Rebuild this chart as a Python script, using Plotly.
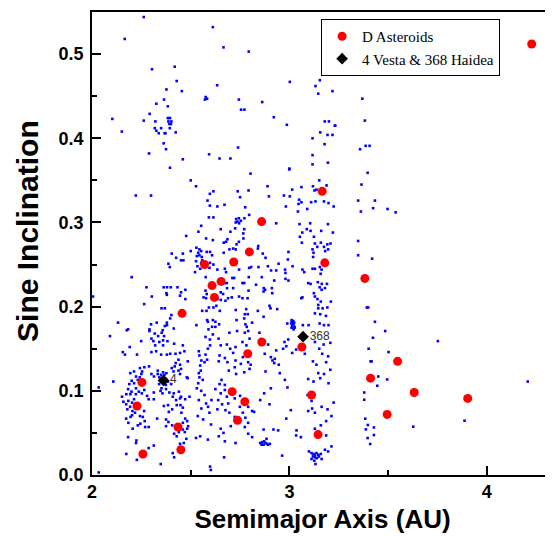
import plotly.graph_objects as go

# ---------------- data ----------------
# D-type asteroids: semimajor axis (AU), sine inclination
d_a = [4.227, 3.166, 2.859, 2.797, 3.179, 2.718, 2.570, 2.654, 2.608, 2.620,
       2.456, 3.382, 2.860, 3.063, 2.789, 3.548, 3.411, 2.253, 3.632, 2.710,
       3.112, 3.903, 2.774, 2.228, 3.495, 2.737, 2.436, 3.145, 2.450, 2.258]
d_s = [0.512, 0.337, 0.301, 0.265, 0.252, 0.253, 0.250, 0.230, 0.225, 0.211,
       0.192, 0.2335, 0.158, 0.152, 0.144, 0.135, 0.115, 0.110, 0.098, 0.099,
       0.095, 0.091, 0.087, 0.082, 0.072, 0.065, 0.057, 0.048, 0.030, 0.025]

# 4 Vesta and 368 Haidea
v_a = [2.362, 3.069]
v_s = [0.1124, 0.1643]
v_lbl = ["4", "368"]

# background asteroids (a, sin i), grouped by region of the plot
bg_high = [
    (2.262, 0.544), (2.612, 0.532), (2.166, 0.518), (2.304, 0.482), (2.419, 0.485),
    (2.429, 0.468), (2.377, 0.458), (2.455, 0.456), (2.365, 0.446), (2.326, 0.441),
    (2.384, 0.438), (2.576, 0.449), (2.583, 0.447), (2.572, 0.446), (2.292, 0.429),
    (2.103, 0.423), (2.262, 0.421), (2.321, 0.420), (2.384, 0.424), (2.395, 0.424),
    (2.387, 0.420), (2.402, 0.420), (2.392, 0.417), (2.400, 0.417), (2.318, 0.412),
    (2.350, 0.412), (2.394, 0.412), (2.326, 0.409), (2.338, 0.406), (2.368, 0.406),
    (2.372, 0.406), (2.424, 0.407), (2.151, 0.408), (2.363, 0.394), (2.375, 0.387),
    (2.289, 0.382), (2.460, 0.375), (2.593, 0.381), (2.395, 0.365),
    (2.666, 0.508), (2.794, 0.503), (2.634, 0.463), (3.002, 0.467), (3.154, 0.469),
    (3.132, 0.462), (3.218, 0.456), (3.146, 0.453), (2.744, 0.446), (2.862, 0.443),
    (2.755, 0.434), (2.772, 0.434), (2.921, 0.425), (2.987, 0.416), (3.179, 0.420),
    (3.200, 0.420), (3.232, 0.415), (3.156, 0.407), (3.193, 0.404), (3.218, 0.404),
    (3.117, 0.400), (3.178, 0.393), (2.740, 0.389), (3.117, 0.380), (2.646, 0.376),
    (2.701, 0.376), (3.117, 0.369), (3.195, 0.371), (3.000, 0.364),
]

bg_outer = [
    (3.369, 0.447), (3.230, 0.415), (3.382, 0.421), (3.358, 0.387), (3.386, 0.391),
    (3.406, 0.391), (3.396, 0.359), (3.365, 0.345), (3.348, 0.326), (3.433, 0.326),
    (3.362, 0.313), (3.424, 0.317), (3.497, 0.316), (3.538, 0.312), (3.348, 0.278),
    (3.348, 0.261), (3.419, 0.257), (3.392, 0.199), (3.399, 0.199), (3.433, 0.182),
    (3.485, 0.171), (3.752, 0.159), (3.423, 0.163), (3.401, 0.150), (3.502, 0.146),
    (3.416, 0.135), (3.411, 0.135), (3.450, 0.117), (3.495, 0.1135), (3.445, 0.106),
    (4.207, 0.111), (3.379, 0.098), (3.379, 0.0894), (3.384, 0.0669), (3.397, 0.0594),
    (3.387, 0.0542), (3.428, 0.0565), (3.396, 0.0439), (3.428, 0.0475), (3.409, 0.0368),
    (3.627, 0.0574), (3.887, 0.0645),
]

bg_inner_mid = [
    (2.500, 0.350), (2.527, 0.343), (2.222, 0.332), (2.299, 0.332), (2.597, 0.334),
    (2.615, 0.337), (2.585, 0.326), (2.597, 0.320), (2.592, 0.306), (2.615, 0.306),
    (2.553, 0.296), (2.539, 0.289), (2.477, 0.284), (2.578, 0.281), (2.612, 0.279),
    (2.529, 0.270), (2.544, 0.268), (2.500, 0.266), (2.553, 0.266), (2.538, 0.264),
    (2.531, 0.260), (2.544, 0.261), (2.556, 0.259), (2.581, 0.265), (2.598, 0.265),
    (2.608, 0.261), (2.404, 0.263), (2.460, 0.263), (2.426, 0.258), (2.451, 0.255),
    (2.463, 0.255), (2.527, 0.254), (2.558, 0.255), (2.553, 0.252), (2.598, 0.252),
    (2.615, 0.250), (2.387, 0.251), (2.394, 0.247), (2.534, 0.248), (2.548, 0.245),
    (2.595, 0.246), (2.522, 0.241), (2.201, 0.235), (2.576, 0.235), (2.276, 0.223),
    (2.363, 0.223), (2.380, 0.223), (2.399, 0.223), (2.433, 0.223), (2.473, 0.220),
    (2.377, 0.216), (2.379, 0.214), (2.451, 0.217), (2.446, 0.213), (2.575, 0.219),
    (2.581, 0.215), (2.303, 0.212), (2.473, 0.209), (2.565, 0.211), (2.578, 0.210),
    (2.264, 0.203), (2.352, 0.198), (2.369, 0.198), (2.592, 0.199), (2.615, 0.199),
    (2.558, 0.195), (2.580, 0.195), (2.402, 0.190), (2.396, 0.186), (2.583, 0.184),
    (2.587, 0.182), (2.612, 0.184), (2.132, 0.181), (2.328, 0.181), (2.299, 0.179),
    (2.379, 0.181), (2.380, 0.178), (2.369, 0.177), (2.529, 0.178), (2.608, 0.176),
    (2.625, 0.176), (2.183, 0.173), (2.291, 0.173), (2.414, 0.174), (2.590, 0.173),
    (2.005, 0.212),
]

bg_middle_mid = [
    (2.803, 0.358), (2.999, 0.363), (2.889, 0.343), (2.738, 0.337), (2.793, 0.338),
    (2.750, 0.330), (2.896, 0.331), (2.972, 0.332), (3.002, 0.331), (3.014, 0.339),
    (3.061, 0.342), (3.119, 0.343), (3.151, 0.350), (3.049, 0.327), (3.061, 0.324),
    (3.046, 0.322), (3.110, 0.324), (3.132, 0.325), (3.127, 0.338), (3.137, 0.339),
    (3.188, 0.344), (3.198, 0.323), (3.175, 0.325), (2.635, 0.319), (2.671, 0.321),
    (2.776, 0.318), (2.982, 0.319), (3.043, 0.313), (3.090, 0.316), (3.224, 0.319),
    (2.796, 0.309), (2.744, 0.305), (2.730, 0.304), (2.754, 0.302), (2.772, 0.305),
    (2.737, 0.301), (2.728, 0.300), (2.745, 0.299), (2.933, 0.299), (3.051, 0.298),
    (3.105, 0.299), (3.195, 0.298), (2.652, 0.292), (2.701, 0.289), (2.725, 0.293),
    (2.771, 0.292), (2.766, 0.287), (3.088, 0.292), (3.107, 0.290), (3.065, 0.288),
    (3.161, 0.290), (3.220, 0.288), (3.053, 0.283), (2.686, 0.280), (2.679, 0.277),
    (2.667, 0.276), (2.744, 0.277), (2.732, 0.274), (2.767, 0.281), (3.063, 0.276),
    (3.124, 0.283), (3.129, 0.275), (3.141, 0.271), (3.159, 0.276), (3.175, 0.271),
    (3.192, 0.274), (3.208, 0.275), (3.196, 0.268), (3.181, 0.266), (2.715, 0.269),
    (2.728, 0.268), (2.696, 0.268), (2.667, 0.264), (2.842, 0.272), (2.840, 0.269),
    (3.117, 0.268), (3.122, 0.264), (3.120, 0.259), (2.865, 0.263), (2.879, 0.258),
    (2.995, 0.265), (2.992, 0.256), (2.945, 0.251), (3.016, 0.248), (2.891, 0.248),
    (2.796, 0.246), (2.806, 0.247), (2.843, 0.247), (2.907, 0.243), (2.933, 0.243),
    (2.978, 0.244), (2.980, 0.240), (2.745, 0.244), (2.673, 0.245), (2.635, 0.244),
    (2.679, 0.241), (3.117, 0.245), (3.129, 0.245), (3.154, 0.247), (3.163, 0.244),
    (3.066, 0.244), (3.075, 0.241), (3.158, 0.239), (2.794, 0.235), (2.860, 0.235),
    (2.711, 0.234), (2.720, 0.234), (2.671, 0.228), (2.683, 0.228), (2.923, 0.231),
    (2.980, 0.233), (2.995, 0.231), (3.095, 0.228), (3.107, 0.227), (3.144, 0.229),
    (3.164, 0.227), (3.180, 0.222), (3.153, 0.223), (3.163, 0.220), (3.190, 0.227),
    (2.762, 0.228), (2.771, 0.228), (2.831, 0.226), (2.715, 0.222), (2.684, 0.222),
    (2.652, 0.217), (2.664, 0.215), (2.870, 0.222), (2.869, 0.218), (2.877, 0.220),
    (2.911, 0.222), (2.913, 0.216), (2.793, 0.219), (2.745, 0.212), (2.762, 0.210),
    (2.788, 0.210), (2.708, 0.211), (2.689, 0.210), (2.676, 0.207), (2.652, 0.208),
    (3.066, 0.211), (3.060, 0.210), (2.635, 0.209), (3.124, 0.216), (3.129, 0.212),
    (3.142, 0.209), (3.146, 0.202), (3.159, 0.206), (3.146, 0.198), (3.168, 0.198),
    (3.192, 0.199), (3.210, 0.206), (3.129, 0.192), (3.156, 0.191), (3.185, 0.189),
    (2.899, 0.201), (2.904, 0.198), (2.728, 0.196), (2.781, 0.197), (2.774, 0.191),
    (2.789, 0.191), (2.771, 0.186), (2.630, 0.201), (2.647, 0.195), (2.840, 0.195),
    (2.938, 0.197), (2.869, 0.188), (2.732, 0.184), (2.777, 0.179), (2.784, 0.176),
    (2.811, 0.181), (2.989, 0.180), (3.026, 0.176), (3.068, 0.178), (3.097, 0.178),
    (3.153, 0.180), (3.175, 0.178), (3.198, 0.178), (2.625, 0.182), (2.644, 0.179),
    (3.011, 0.184), (3.019, 0.183), (3.012, 0.182), (3.024, 0.181), (3.009, 0.180),
    (3.021, 0.179), (3.014, 0.177), (3.026, 0.175), (3.011, 0.175), (3.021, 0.173),
    (3.016, 0.180),
]

bg_inner_low = [
    (2.091, 0.165), (2.176, 0.172), (2.291, 0.171), (2.318, 0.168), (2.335, 0.165),
    (2.358, 0.172), (2.353, 0.169), (2.365, 0.165), (2.382, 0.159), (2.416, 0.156),
    (2.460, 0.154), (2.301, 0.162), (2.311, 0.159), (2.320, 0.154), (2.341, 0.158),
    (2.360, 0.160), (2.360, 0.154), (2.249, 0.159), (2.575, 0.164), (2.597, 0.161),
    (2.612, 0.167), (2.598, 0.154), (2.587, 0.150), (2.575, 0.143), (2.583, 0.137),
    (2.570, 0.134), (2.156, 0.146), (2.167, 0.143), (2.228, 0.143), (2.191, 0.152),
    (2.301, 0.146), (2.325, 0.147), (2.350, 0.143), (2.379, 0.143), (2.396, 0.144),
    (2.423, 0.144), (2.446, 0.145), (2.468, 0.147), (2.438, 0.137), (2.424, 0.133),
    (2.446, 0.131), (2.419, 0.129), (2.438, 0.124), (2.446, 0.120), (2.404, 0.127),
    (2.413, 0.123), (2.451, 0.126), (2.485, 0.135), (2.480, 0.116), (2.541, 0.147),
    (2.544, 0.142), (2.554, 0.136), (2.548, 0.130), (2.551, 0.124), (2.541, 0.121),
    (2.544, 0.116), (2.561, 0.113), (2.538, 0.109), (2.265, 0.128), (2.243, 0.127),
    (2.213, 0.123), (2.194, 0.121), (2.223, 0.117), (2.232, 0.113), (2.201, 0.112),
    (2.213, 0.109), (2.189, 0.108), (2.254, 0.123), (2.250, 0.120), (2.242, 0.116),
    (2.289, 0.129), (2.301, 0.120), (2.314, 0.117), (2.333, 0.124), (2.333, 0.120),
    (2.341, 0.116), (2.350, 0.119), (2.360, 0.122), (2.367, 0.119), (2.377, 0.121),
    (2.348, 0.113), (2.375, 0.114), (2.385, 0.111), (2.340, 0.108), (2.401, 0.108),
    (2.374, 0.107), (2.375, 0.102), (2.352, 0.103), (2.347, 0.100), (2.485, 0.115),
    (2.108, 0.111), (2.034, 0.104), (2.183, 0.102), (2.200, 0.099), (2.174, 0.096),
    (2.152, 0.093), (2.184, 0.088), (2.159, 0.087), (2.203, 0.086), (2.213, 0.090),
    (2.194, 0.096), (2.222, 0.096), (2.237, 0.099), (2.223, 0.103), (2.265, 0.101),
    (2.279, 0.094), (2.252, 0.097), (2.313, 0.098), (2.287, 0.090), (2.313, 0.090),
    (2.357, 0.097), (2.392, 0.098), (2.414, 0.097), (2.440, 0.099), (2.451, 0.093),
    (2.472, 0.090), (2.446, 0.091), (2.426, 0.089), (2.409, 0.093), (2.494, 0.093),
    (2.364, 0.082), (2.385, 0.083), (2.406, 0.078), (2.429, 0.083), (2.448, 0.083),
    (2.389, 0.075), (2.453, 0.074), (2.460, 0.080), (2.173, 0.084), (2.179, 0.078),
    (2.193, 0.081), (2.205, 0.076), (2.218, 0.074), (2.195, 0.069), (2.173, 0.067),
    (2.184, 0.062), (2.203, 0.071), (2.243, 0.070), (2.257, 0.069), (2.264, 0.076),
    (2.267, 0.064), (2.245, 0.061), (2.269, 0.057), (2.287, 0.057), (2.232, 0.059),
    (2.206, 0.055), (2.330, 0.067), (2.375, 0.066), (2.387, 0.063), (2.375, 0.058),
    (2.406, 0.059), (2.434, 0.060), (2.460, 0.062), (2.472, 0.067), (2.482, 0.064),
    (2.487, 0.058), (2.470, 0.051), (2.482, 0.055), (2.460, 0.054), (2.440, 0.051),
    (2.416, 0.049), (2.429, 0.046), (2.531, 0.103), (2.553, 0.100), (2.570, 0.095),
    (2.541, 0.089), (2.578, 0.085), (2.605, 0.089), (2.588, 0.081), (2.554, 0.079),
    (2.595, 0.074), (2.536, 0.070), (2.563, 0.066), (2.603, 0.060), (2.548, 0.046),
    (2.587, 0.042), (2.598, 0.010), (2.602, 0.006), (2.183, 0.045), (2.225, 0.041),
    (2.223, 0.038), (2.227, 0.018), (2.174, 0.025), (2.287, 0.032), (2.313, 0.035),
    (2.409, 0.026), (2.416, 0.021), (2.348, 0.013), (2.478, 0.043), (2.465, 0.038),
    (2.446, 0.037), (2.527, 0.044), (2.034, 0.003),
]

bg_middle_low = [
    (2.696, 0.169), (2.735, 0.171), (2.774, 0.169), (2.791, 0.171), (2.641, 0.162),
    (2.683, 0.155), (2.700, 0.150), (2.715, 0.145), (2.727, 0.152), (2.762, 0.158),
    (2.782, 0.154), (2.798, 0.162), (2.652, 0.154), (2.848, 0.169), (2.892, 0.155),
    (2.933, 0.148), (2.994, 0.161), (2.975, 0.158), (2.984, 0.153), (2.646, 0.142),
    (2.673, 0.139), (2.642, 0.135), (2.686, 0.134), (2.727, 0.136), (2.764, 0.140),
    (2.754, 0.132), (2.791, 0.134), (2.804, 0.131), (2.723, 0.128), (2.693, 0.124),
    (2.730, 0.120), (2.771, 0.122), (2.798, 0.126), (2.875, 0.144), (2.906, 0.140),
    (2.926, 0.138), (2.923, 0.133), (2.946, 0.131), (2.879, 0.123), (2.951, 0.121),
    (2.914, 0.136), (2.968, 0.150), (3.014, 0.145), (3.034, 0.149), (3.055, 0.153),
    (3.078, 0.144), (3.129, 0.158), (3.151, 0.150), (3.173, 0.155), (3.207, 0.157),
    (3.166, 0.144), (3.196, 0.141), (3.119, 0.135), (3.137, 0.131), (3.186, 0.134),
    (3.207, 0.125), (3.146, 0.121), (3.175, 0.120), (3.095, 0.114), (3.122, 0.111),
    (3.156, 0.115), (3.198, 0.109), (2.656, 0.113), (2.646, 0.108), (2.673, 0.107),
    (2.625, 0.102), (2.652, 0.097), (2.673, 0.101), (2.683, 0.093), (2.639, 0.089),
    (2.659, 0.084), (2.690, 0.085), (2.723, 0.091), (2.750, 0.094), (2.749, 0.081),
    (2.791, 0.081), (2.811, 0.076), (2.764, 0.074), (2.777, 0.068), (2.723, 0.069),
    (2.696, 0.074), (2.676, 0.077), (2.635, 0.078), (2.791, 0.062), (2.774, 0.057),
    (2.703, 0.058), (2.652, 0.055), (2.642, 0.046), (2.673, 0.040), (2.666, 0.050),
    (2.727, 0.038), (2.669, 0.021), (2.821, 0.075), (2.852, 0.089), (2.872, 0.097),
    (2.906, 0.103), (2.899, 0.084), (2.919, 0.054), (2.869, 0.054), (2.791, 0.049),
    (2.811, 0.045), (2.852, 0.038), (2.862, 0.039), (2.872, 0.040), (2.879, 0.038),
    (2.886, 0.037), (2.892, 0.036), (2.869, 0.036), (2.859, 0.036), (2.884, 0.043),
    (2.901, 0.037), (2.977, 0.113), (2.990, 0.104), (2.984, 0.067), (3.007, 0.077),
    (2.963, 0.023), (3.034, 0.047), (3.058, 0.045), (3.036, 0.053), (2.943, 0.053),
    (3.092, 0.095), (3.112, 0.088), (3.115, 0.079), (3.095, 0.076), (3.129, 0.074),
    (3.163, 0.081), (3.193, 0.078), (3.224, 0.086), (3.213, 0.070), (3.186, 0.064),
    (3.159, 0.059), (3.129, 0.055), (3.186, 0.047), (3.213, 0.034), (3.196, 0.028),
    (3.180, 0.030), (3.099, 0.028), (3.112, 0.026), (3.122, 0.025), (3.129, 0.024),
    (3.137, 0.026), (3.146, 0.024), (3.129, 0.021), (3.119, 0.022), (3.139, 0.020),
    (3.149, 0.022), (3.159, 0.025), (3.126, 0.017), (3.132, 0.013), (3.112, 0.019),
    (3.163, 0.019),
]

x_range = [2.0, 4.335]
y_range = [0.0, 0.55]
x_ticks = [2, 3, 4]
y_ticks = [0.0, 0.1, 0.2, 0.3, 0.4, 0.5]

# ---------------- figure ----------------
bg_all = bg_high + bg_outer + bg_inner_mid + bg_middle_mid + bg_inner_low + bg_middle_low
bg_a = [p[0] for p in bg_all]
bg_s = [p[1] for p in bg_all]

fig = go.Figure()
fig.add_trace(go.Scatter(
    x=bg_a, y=bg_s, mode="markers", showlegend=False,
    marker=dict(symbol="square", size=2.6, color="#0000ff", line=dict(width=0)),
    hoverinfo="skip"))
fig.add_trace(go.Scatter(
    x=d_a, y=d_s, mode="markers", name="D Asteroids",
    marker=dict(symbol="circle", size=9, color="#ff0000", line=dict(width=0))))
fig.add_trace(go.Scatter(
    x=v_a, y=v_s, mode="markers+text", name="4 Vesta & 368 Haidea",
    text=v_lbl, textposition="middle right",
    textfont=dict(family="Liberation Sans", size=12, color="#333333"),
    marker=dict(symbol="diamond", size=9, color="#000000", line=dict(width=0))))

axis_font = dict(family="Liberation Sans", size=18, color="black", weight="bold")
# the page body adds an 8 px offset, so the figure is 8 px smaller and margins shifted
fig.update_layout(
    width=545, height=528,
    margin=dict(l=84, r=0, t=4, b=61),
    paper_bgcolor="white", plot_bgcolor="white",
    font=dict(family="Liberation Sans", color="black"),
    legend=dict(x=0.497, y=0.985, xanchor="left", yanchor="top",
                bgcolor="white", bordercolor="black", borderwidth=1,
                font=dict(family="Liberation Serif", size=15, color="black"),
                tracegroupgap=0, itemwidth=30),
    xaxis=dict(range=x_range, tickvals=x_ticks, ticktext=[str(t) for t in x_ticks],
               ticks="inside", ticklen=9, tickwidth=1.5, tickcolor="black",
               minor=dict(dtick=0.5, ticks="inside", ticklen=5, tickwidth=1.5, tickcolor="black"),
               showline=True, linecolor="black", linewidth=1.5, mirror=True,
               showgrid=False, zeroline=False, tickfont=axis_font,
               title=dict(text="Semimajor Axis (AU)", standoff=8,
                          font=dict(family="Liberation Sans", size=26, color="black", weight="bold"))),
    yaxis=dict(range=y_range, tickvals=y_ticks, ticktext=[f"{t:.1f}" for t in y_ticks],
               ticks="inside", ticklen=9, tickwidth=1.5, tickcolor="black",
               minor=dict(dtick=0.05, ticks="inside", ticklen=5, tickwidth=1.5, tickcolor="black"),
               showline=True, linecolor="black", linewidth=1.5, mirror=False,
               showgrid=False, zeroline=False, tickfont=axis_font, ticklabelstandoff=3),
    annotations=[dict(text="Sine Inclination", textangle=-90, showarrow=False,
                      xref="paper", yref="paper", x=-0.139, y=0.527,
                      xanchor="center", yanchor="middle",
                      font=dict(family="Liberation Sans", size=30, color="black", weight="bold"))],
)

fig.write_html("out.html")
